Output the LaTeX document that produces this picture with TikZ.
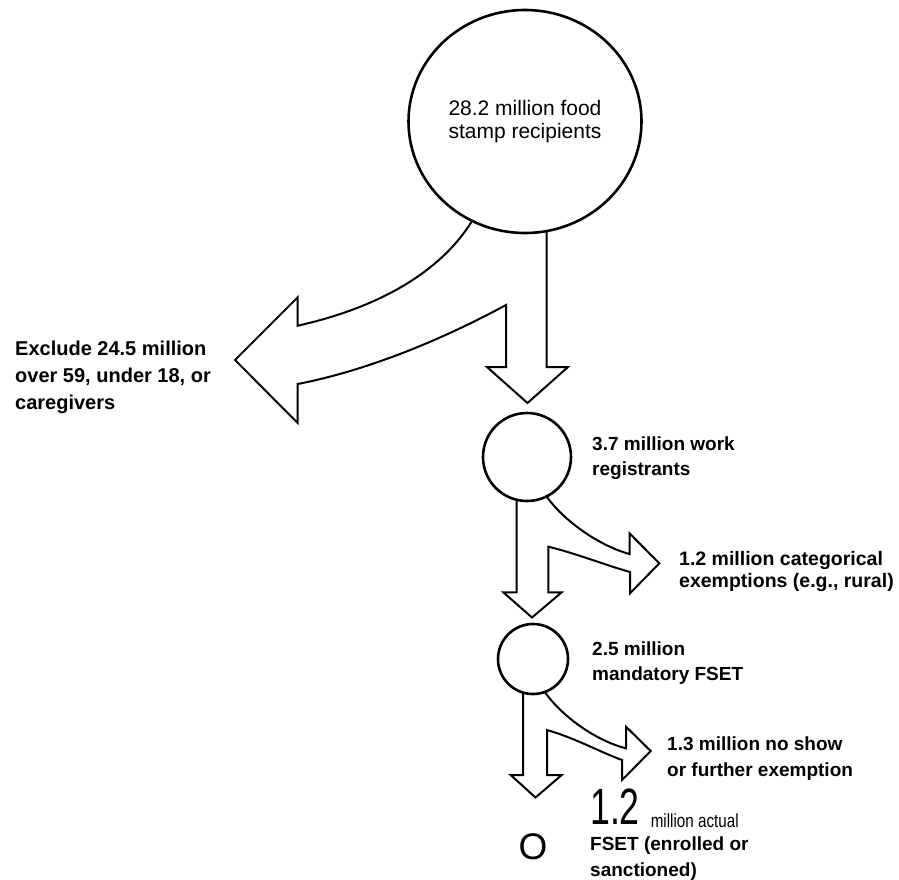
\documentclass[tikz,border=0pt]{standalone}
\usepackage{fontspec}
\setmainfont{Liberation Sans}
\usepackage{graphicx}
\usetikzlibrary{shapes.geometric}

\newcommand{\bignum}[1]{\scalebox{0.7}[1]{\fontsize{51}{51}\selectfont\mdseries #1}}
\newcommand{\slim}[1]{\raisebox{-3pt}{\scalebox{0.8}[1]{\fontsize{19}{19}\selectfont\mdseries #1}}}

\begin{document}
\begin{tikzpicture}[x=1pt,y=-1pt,
  blk/.style={line width=2pt,line join=miter},
  ring/.style={circle,draw,line width=2.6pt,inner sep=0pt},
  lbl/.style={inner sep=0pt,anchor=base west,align=left,font=\bfseries\fontsize{19}{25}\selectfont}]
\useasboundingbox (0,0) rectangle (899,879);
\node[ellipse,draw,line width=2.6pt,minimum width=233pt,minimum height=223pt,align=center,
  font=\fontsize{21}{23.5}\selectfont] (recip) at (525,121.5) {28.2 million food\\stamp recipients};
\node[ring,minimum size=88pt] (workreg) at (527,457) {};
\node[ring,minimum size=70pt] (mandatory) at (533,659) {};
\node[inner sep=0pt,font=\fontsize{37}{37}\selectfont] (actualO) at (533,847) {O};

\node[lbl,font=\bfseries\fontsize{20}{27}\selectfont] (excl) at (15,409) {Exclude 24.5 million\\over 59, under 18, or\\caregivers};
\node[lbl] (workregtxt) at (592,475) {3.7 million work\\registrants};
\node[lbl,font=\bfseries\fontsize{19.5}{22.5}\selectfont] (categ) at (679,587.5) {1.2 million categorical\\exemptions (e.g., rural)};
\node[lbl] (mandtxt) at (592,680) {2.5 million\\mandatory FSET};
\node[lbl,font=\bfseries\fontsize{19}{26.5}\selectfont] (noshow) at (667,776.5) {1.3 million no show\\or further exemption};
\node[lbl,font=\bfseries\fontsize{19}{26}\selectfont] (actualtxt) at (590,876) {\bignum{1.2}\hspace{11pt}\slim{million actual}\\FSET (enrolled or\\sanctioned)};

\draw[blk] (472,221) .. controls (445,265) and (390,305) .. (297.7,325.7) -- (297.7,297.3) -- (235,360)
  -- (297.7,423) -- (297.7,384) .. controls (380,368) and (460,330) .. (506,305) -- (506,367)
  -- (487,367) -- (527.5,403) -- (568,367) -- (546.5,367) -- (546.5,231);
\draw[blk] (516.7,499.8) -- (516.7,592.3) -- (503.3,592.3) -- (532,617.5) -- (561.7,592.3) -- (548.3,592.3)
  -- (548.3,546.7) .. controls (575,553) and (605,565) .. (630,572) -- (630,593.3) -- (659.3,563.3)
  -- (629.5,533.3) -- (629.5,554) .. controls (600,546) and (565,522) .. (546.7,496.7);
\draw[blk] (523,692.5) -- (523,775) -- (510.7,775) -- (535.5,797.5) -- (561.7,775) -- (547,775)
  -- (547,730) .. controls (575,738) and (600,752) .. (622,760) -- (622,780) -- (650.7,751)
  -- (626,726.7) -- (626,748.3) .. controls (600,742) and (565,720) .. (545,692.3);
\end{tikzpicture}
\end{document}
